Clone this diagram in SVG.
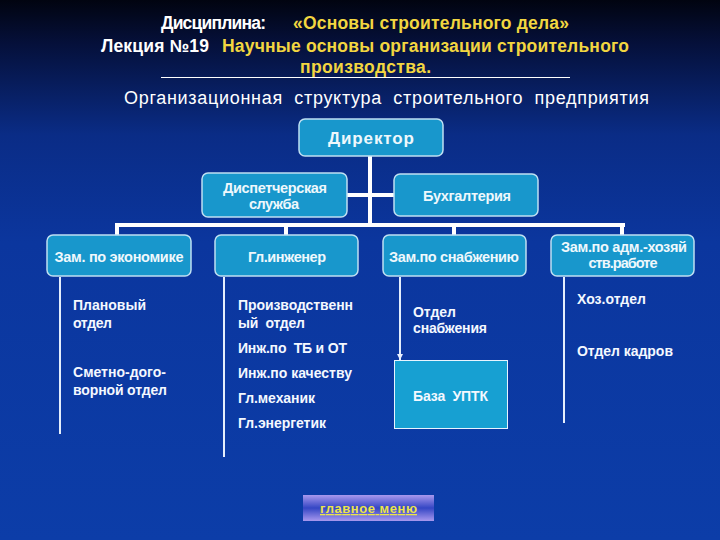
<svg xmlns="http://www.w3.org/2000/svg" width="720" height="540" viewBox="0 0 720 540">
<defs>
<linearGradient id="bg" x1="0" y1="0" x2="0" y2="1">
<stop offset="0" stop-color="#010410"/>
<stop offset="0.08" stop-color="#05103a"/>
<stop offset="0.25" stop-color="#0a2c86"/>
<stop offset="0.45" stop-color="#0b369e"/>
<stop offset="1" stop-color="#0c3da8"/>
</linearGradient>
<linearGradient id="btn" x1="0" y1="0" x2="0" y2="1">
<stop offset="0" stop-color="#a898ee"/>
<stop offset="0.5" stop-color="#3446c4"/>
<stop offset="1" stop-color="#a898ee"/>
</linearGradient>
<marker id="arr" viewBox="0 0 10 10" refX="10" refY="5" markerWidth="6" markerHeight="7" orient="auto" markerUnits="userSpaceOnUse">
<path d="M0,0 L10,5 L0,10 Z" fill="#e8f0ff"/>
</marker>
<style>
.t{font-family:"Liberation Sans",Arial,sans-serif;font-weight:bold}
.w{fill:#ffffff}
.y{fill:#f2d640}
.box{fill:#1897cc;stroke:#bfe0f2;stroke-width:1.5}
.bt{font-family:"Liberation Sans",Arial,sans-serif;font-weight:bold;font-size:14.5px;fill:#eef8fc;text-anchor:middle}
.it{font-family:"Liberation Sans",Arial,sans-serif;font-weight:bold;font-size:14px;fill:#f4f8ff}
.bar{stroke:#ffffff;stroke-width:4;fill:none}
.sub{stroke:#e4eefc;stroke-width:2;fill:none}
</style>
</defs>
<rect x="0" y="0" width="720" height="540" fill="url(#bg)"/>

<g id="title">
<text class="t" font-size="17.5" y="29"><tspan class="w" x="161" textLength="105">Дисциплина:</tspan><tspan class="y" x="293" textLength="276">«Основы строительного дела»</tspan></text>
<text class="t" font-size="17.5" y="52"><tspan class="w" x="101" textLength="108">Лекция №19</tspan><tspan class="y" x="222" textLength="407">Научные основы организации строительного</tspan></text>
<text class="t y" font-size="17.5" x="300" y="73" textLength="131">производства.</text>
<line x1="161" y1="77.5" x2="570" y2="77.5" stroke="#ffffff" stroke-width="1"/>
<text font-family="Liberation Sans,Arial,sans-serif" font-size="18" fill="#ffffff" x="124" y="104" textLength="525" xml:space="preserve">Организационная  структура  строительного  предприятия</text>
</g>

<g id="connectors">
<line class="bar" x1="370" y1="156" x2="370" y2="227"/>
<line class="bar" x1="346" y1="195" x2="395" y2="195"/>
<line class="bar" x1="115" y1="225" x2="625" y2="225"/>
<line class="bar" x1="117" y1="225" x2="117" y2="236"/>
<line class="bar" x1="286" y1="225" x2="286" y2="236"/>
<line class="bar" x1="454" y1="225" x2="454" y2="236"/>
<line class="bar" x1="622" y1="225" x2="622" y2="236"/>
<line class="sub" x1="60" y1="277" x2="60" y2="434"/>
<line class="sub" x1="224" y1="277" x2="224" y2="457"/>
<line class="sub" x1="400" y1="277" x2="400" y2="360" marker-end="url(#arr)"/>
<line class="sub" x1="564" y1="277" x2="564" y2="423"/>
</g>

<g id="director">
<rect class="box" x="299" y="119" width="144" height="37" rx="6"/>
<text font-family="Liberation Sans,Arial,sans-serif" font-weight="bold" font-size="17" fill="#eef8fc" text-anchor="middle" x="371" y="144" textLength="86">Директор</text>
</g>
<g id="dispatch">
<rect class="box" x="202" y="173" width="145" height="44" rx="6"/>
<text class="bt" x="275" y="193" textLength="104">Диспетчерская</text>
<text class="bt" x="274" y="209" textLength="50">служба</text>
</g>
<g id="accounting">
<rect class="box" x="394" y="174" width="144" height="42" rx="6"/>
<text class="bt" x="467" y="201" textLength="88">Бухгалтерия</text>
</g>
<g id="zam-econ">
<rect class="box" x="47" y="235" width="144" height="41" rx="6"/>
<text class="bt" x="119" y="262" textLength="129">Зам. по экономике</text>
</g>
<g id="gl-eng">
<rect class="box" x="215" y="235" width="143" height="41" rx="6"/>
<text class="bt" x="287" y="262" textLength="78">Гл.инженер</text>
</g>
<g id="zam-snab">
<rect class="box" x="383" y="235" width="143" height="41" rx="6"/>
<text class="bt" x="454" y="262" textLength="130">Зам.по снабжению</text>
</g>
<g id="zam-adm">
<rect class="box" x="551" y="235" width="143" height="41" rx="6"/>
<text class="bt" x="624" y="252" textLength="126">Зам.по адм.-хозяй</text>
<text class="bt" x="623" y="268" textLength="69">ств.работе</text>
</g>

<g id="econ-items">
<text class="it" x="73" y="310" textLength="73">Плановый</text>
<text class="it" x="73" y="328" textLength="39">отдел</text>
<text class="it" x="73" y="377" textLength="93">Сметно-дого-</text>
<text class="it" x="73" y="395" textLength="94">ворной отдел</text>
</g>
<g id="eng-items">
<text class="it" x="238" y="310" textLength="115">Производственн</text>
<text class="it" x="238" y="328" textLength="67" xml:space="preserve">ый  отдел</text>
<text class="it" x="238" y="353" textLength="109" xml:space="preserve">Инж.по  ТБ и ОТ</text>
<text class="it" x="238" y="378" textLength="114">Инж.по качеству</text>
<text class="it" x="238" y="403" textLength="77">Гл.механик</text>
<text class="it" x="238" y="428" textLength="88">Гл.энергетик</text>
</g>
<g id="snab-items">
<text class="it" x="413" y="317" textLength="43">Отдел</text>
<text class="it" x="413" y="333" textLength="74">снабжения</text>
</g>
<g id="uptk">
<rect x="394.5" y="360.5" width="113" height="68" fill="#17a0d2" stroke="#e8f4ff" stroke-width="1"/>
<text class="it" x="413" y="401" textLength="75" xml:space="preserve">База  УПТК</text>
</g>
<g id="adm-items">
<text class="it" x="577" y="304" textLength="69">Хоз.отдел</text>
<text class="it" x="577" y="356" textLength="96">Отдел кадров</text>
</g>

<g id="menu-button">
<rect x="303" y="495" width="131" height="26" fill="url(#btn)"/>
<text class="t" font-size="13" fill="#ece44a" x="320" y="513" textLength="97" text-decoration="underline">главное меню</text>
</g>
</svg>
